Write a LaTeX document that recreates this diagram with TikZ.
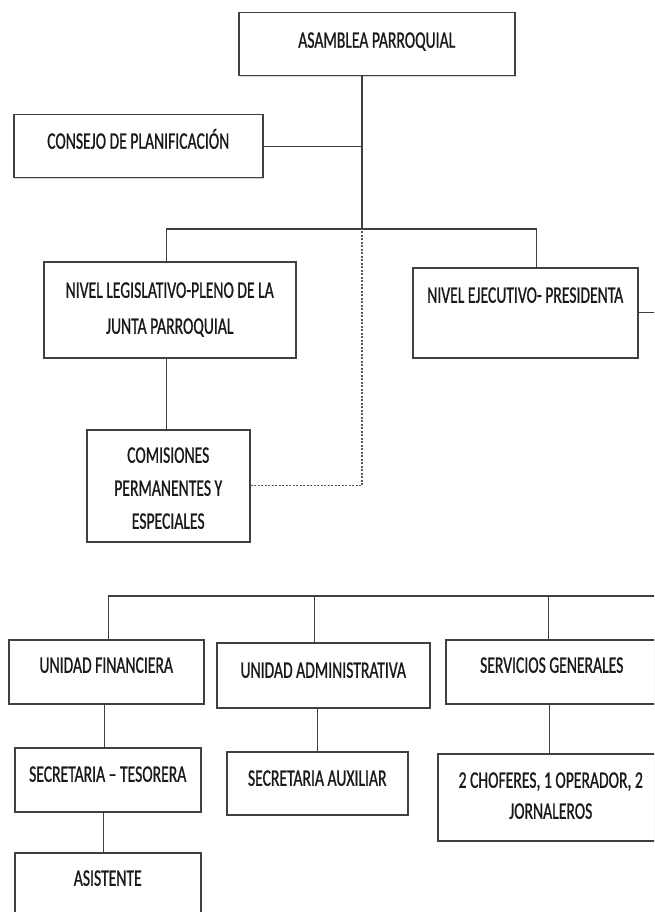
\documentclass[tikz,border=0pt]{standalone}
\usepackage{fontspec}
\setmainfont{Carlito}[FakeStretch=0.66, FakeBold=0.8]
\usetikzlibrary{calc,shadows}

\begin{document}
\begin{tikzpicture}[
  x=1pt, y=-1pt,
  box/.style={draw=black!75, line width=1.5pt, fill=white, inner sep=0pt,
              anchor=north west, align=center,
              drop shadow={shadow xshift=1.2pt, shadow yshift=-1.2pt, opacity=0.35},
              font=\fontsize{23.7}{33}\selectfont, text=black!90},
  conn/.style={draw=black!75, line width=1.4pt},
  dots/.style={draw=black!65, line width=1.4pt, dash pattern=on 2pt off 1.5pt},
]
\clip (0,0) rectangle (654,912);

% top level
\node[box, minimum width=276pt, text height=35pt, text depth=28pt] (asam) at (238,12) {ASAMBLEA PARROQUIAL};
\node[box, minimum width=249pt, text height=34pt, text depth=29pt] (consejo) at (13,114) {CONSEJO DE PLANIFICACIÓN};
\coordinate (trunk) at (362,229);

% levels
\node[box, minimum width=252pt, text height=72pt, text depth=24pt] (legis) at (43,261)
  {NIVEL LEGISLATIVO-PLENO DE LA\\[3pt]JUNTA PARROQUIAL};
\node[box, minimum width=225pt, text height=35pt, text depth=55pt] (ejec) at (412,267) {NIVEL EJECUTIVO- PRESIDENTA};
\node[box, minimum width=163pt, text height=99pt, text depth=13pt] (comis) at (86,429)
  {COMISIONES\\PERMANENTES Y\\ESPECIALES};
\coordinate (edgeR) at (680,308);

% units
\coordinate (busR) at (680,596);
\node[box, minimum width=195pt, text height=33pt, text depth=31pt] (uf) at (8,639) {UNIDAD FINANCIERA};
\node[box, minimum width=213pt, text height=35pt, text depth=30pt] (ua) at (216,642) {UNIDAD ADMINISTRATIVA};
\node[box, minimum width=212pt, text height=33pt, text depth=31pt] (sg) at (445,639) {SERVICIOS GENERALES};

\node[box, minimum width=186pt, text height=34pt, text depth=30pt] (st) at (14,747) {SECRETARIA -- TESORERA};
\node[box, minimum width=181pt, text height=34pt, text depth=29pt] (sa) at (226,751) {SECRETARIA AUXILIAR};
\node[box, minimum width=226pt, text height=65pt, text depth=22pt] (chof) at (437,753)
  {2 CHOFERES, 1 OPERADOR, 2\\[-2pt]JORNALEROS};
\node[box, minimum width=186pt, text height=33pt, text depth=40pt] (asis) at (14,852) {ASISTENTE};

% connectors
\draw[conn] (asam.south -| trunk) -- (trunk);
\draw[conn] (consejo.east) -- (consejo.east -| trunk);
\draw[conn] ([xshift=-3pt]legis.north) |- (trunk) -| ([xshift=11pt]ejec.north);
\draw[conn] ([xshift=-3pt]legis.south) -- ([xshift=-3pt]legis.south |- comis.north);
\draw[dots] (comis.east) -| (trunk);
\draw[conn] (ejec.east) -- (ejec.east -| edgeR);

\draw[conn] ([xshift=2pt]uf.north) |- (busR);
\draw[conn] ([xshift=-9pt]ua.north) -- ([xshift=-9pt]ua.north |- busR);
\draw[conn] ([xshift=-3pt]sg.north) -- ([xshift=-3pt]sg.north |- busR);
\draw[conn] ([xshift=-2pt]uf.south) -- ([xshift=-2pt]uf.south |- st.north);
\draw[conn] (sa.north) -- (sa.north |- ua.south);
\draw[conn] ([xshift=-2pt]sg.south) -- ([xshift=-2pt]sg.south |- chof.north);
\draw[conn] ([xshift=-4pt]st.south) -- ([xshift=-4pt]st.south |- asis.north);
\end{tikzpicture}
\end{document}
